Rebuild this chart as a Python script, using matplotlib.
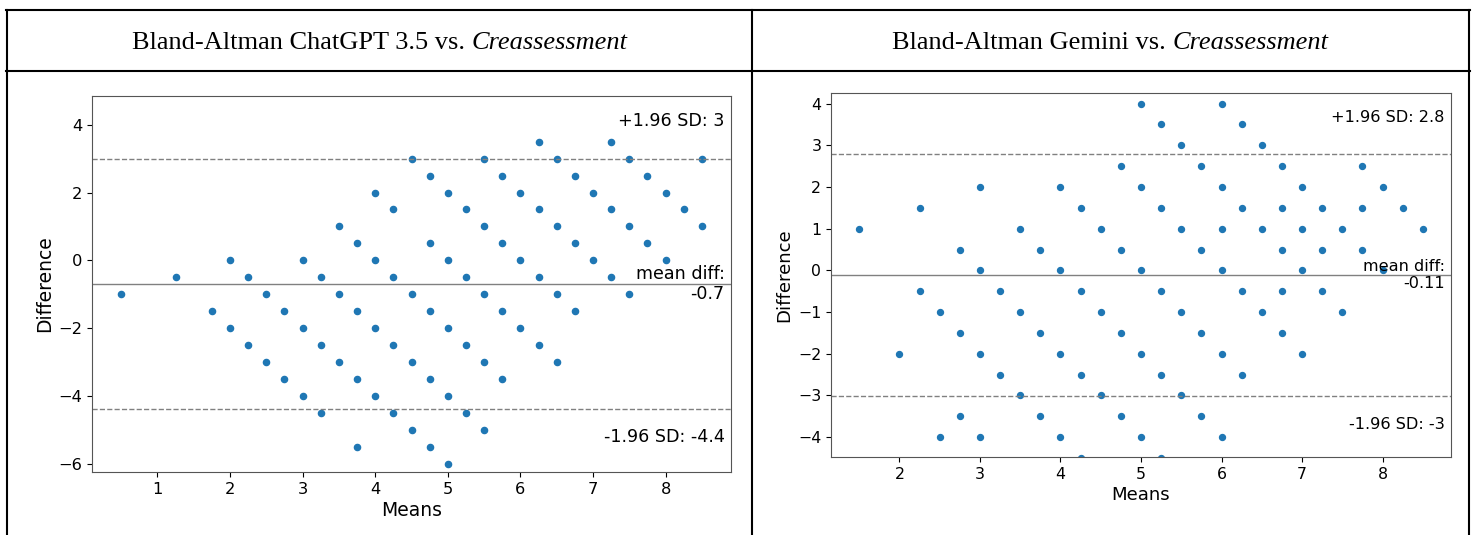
import matplotlib
matplotlib.use("Agg")
import matplotlib.pyplot as plt
from matplotlib.lines import Line2D

# ChatGPT 3.5 vs Creassessment: difference -> list of means
gpt_points = {
    3.5: [6.25, 7.25],
    3.0: [4.5, 5.5, 6.5, 7.5, 8.5],
    2.5: [4.75, 5.75, 6.75, 7.75],
    2.0: [4, 5, 6, 7, 8],
    1.5: [4.25, 5.25, 6.25, 7.25, 8.25],
    1.0: [3.5, 5.5, 6.5, 7.5, 8.5],
    0.5: [3.75, 4.75, 5.75, 6.75, 7.75],
    0.0: [2, 3, 4, 5, 6, 7, 8],
    -0.5: [1.25, 2.25, 3.25, 4.25, 5.25, 6.25, 7.25],
    -1.0: [0.5, 2.5, 3.5, 4.5, 5.5, 6.5, 7.5],
    -1.5: [1.75, 2.75, 3.75, 4.75, 5.75, 6.75],
    -2.0: [2, 3, 4, 5, 6],
    -2.5: [2.25, 3.25, 4.25, 5.25, 6.25],
    -3.0: [2.5, 3.5, 4.5, 5.5, 6.5],
    -3.5: [2.75, 3.75, 4.75, 5.75],
    -4.0: [3, 4, 5],
    -4.5: [3.25, 4.25, 5.25],
    -5.0: [4.5, 5.5],
    -5.5: [3.75, 4.75],
    -6.0: [5],
}
gpt_mean_diff = -0.7
gpt_upper = 3.0
gpt_lower = -4.4

# Gemini vs Creassessment
gemini_points = {
    4.0: [5, 6],
    3.5: [5.25, 6.25],
    3.0: [5.5, 6.5],
    2.5: [4.75, 5.75, 6.75, 7.75],
    2.0: [3, 4, 5, 6, 7, 8],
    1.5: [2.25, 4.25, 5.25, 6.25, 6.75, 7.25, 7.75, 8.25],
    1.0: [1.5, 3.5, 4.5, 5.5, 6, 6.5, 7, 7.5, 8.5],
    0.5: [2.75, 3.75, 4.75, 5.75, 6.75, 7.25, 7.75],
    0.0: [3, 4, 5, 6, 7, 8],
    -0.5: [2.25, 3.25, 4.25, 5.25, 6.25, 6.75, 7.25],
    -1.0: [2.5, 3.5, 4.5, 5.5, 6.5, 7.5],
    -1.5: [2.75, 3.75, 4.75, 5.75, 6.75],
    -2.0: [2, 3, 4, 5, 6, 7],
    -2.5: [3.25, 4.25, 5.25, 6.25],
    -3.0: [3.5, 4.5, 5.5],
    -3.5: [2.75, 3.75, 4.75, 5.75],
    -4.0: [2.5, 3, 4, 5, 6],
    -4.5: [4.25, 5.25],
}
gemini_mean_diff = -0.11
gemini_upper = 2.8
gemini_lower = -3.02

titles = [("Bland-Altman ChatGPT 3.5 vs. ", "Creassessment"),
          ("Bland-Altman Gemini vs. ", "Creassessment")]

W, H = 1475, 535


def px(x0, y0, x1, y1):
    return [x0 / W, 1 - y1 / H, (x1 - x0) / W, (y1 - y0) / H]


def bland_altman(ax, points, mean_diff, upper, lower, scale, tick_scale):
    means = []
    diffs = []
    for d, ms in points.items():
        for m in ms:
            means.append(m)
            diffs.append(d)
    ax.scatter(means, diffs, s=22 * scale, color='#1f77b4')
    ax.axhline(mean_diff, color='gray', linewidth=1)
    ax.axhline(upper, color='gray', linewidth=1, linestyle='--')
    ax.axhline(lower, color='gray', linewidth=1, linestyle='--')

    fs = 14 * scale
    ax.annotate('mean diff:\n{}'.format(mean_diff), xy=(0.99, mean_diff),
                ha='right', va='center', fontsize=fs,
                xycoords=('axes fraction', 'data'))
    ax.annotate('-1.96 SD: {:0.2g}'.format(lower), xy=(0.99, 0.07),
                ha='right', va='bottom', fontsize=fs,
                xycoords='axes fraction')
    ax.annotate('+1.96 SD: {:0.2g}'.format(upper), xy=(0.99, 0.92),
                ha='right', fontsize=fs, xycoords='axes fraction')

    half = 1.5 * (upper - mean_diff)
    ax.set_ylim(mean_diff - half, mean_diff + half)
    ax.set_xlabel('Means', fontsize=15 * tick_scale, labelpad=3)
    ax.set_ylabel('Difference', fontsize=15 * tick_scale, labelpad=3)
    ax.tick_params(labelsize=13 * tick_scale)
    for s in ax.spines.values():
        s.set_edgecolor('#555555')


fig = plt.figure(figsize=(W / 100, H / 100), dpi=100)

ax1 = fig.add_axes(px(92, 96, 731, 472))
bland_altman(ax1, gpt_points, gpt_mean_diff, gpt_upper, gpt_lower, 0.9, 0.9)

ax2 = fig.add_axes(px(831, 93, 1451, 457))
bland_altman(ax2, gemini_points, gemini_mean_diff, gemini_upper,
             gemini_lower, 0.83, 0.87)

# table borders
lw = 1.5
for x in [7, 752, 1469]:
    fig.add_artist(Line2D([x / W, x / W], [1 - 9.5 / H, 0], color='black',
                          linewidth=lw, transform=fig.transFigure))
for y in [9.5, 71]:
    fig.add_artist(Line2D([6 / W, 1470 / W], [1 - y / H, 1 - y / H],
                          color='black', linewidth=lw,
                          transform=fig.transFigure))

# header texts: regular part + italic part, centered together
renderer = fig.canvas.get_renderer()
centers = [379.5, 1110.5]
for (plain, ital), cx in zip(titles, centers):
    t1 = fig.text(0, 1 - 43 / H, plain, family='Liberation Serif',
                  fontsize=19, va='center', ha='left')
    t2 = fig.text(0, 1 - 43 / H, ital, family='Liberation Serif',
                  style='italic', fontsize=19, va='center', ha='left')
    w1 = t1.get_window_extent(renderer).width
    w2 = t2.get_window_extent(renderer).width
    x0 = cx - (w1 + w2) / 2
    t1.set_x(x0 / W)
    t2.set_x((x0 + w1) / W)

fig.savefig('out.png', dpi=100)
